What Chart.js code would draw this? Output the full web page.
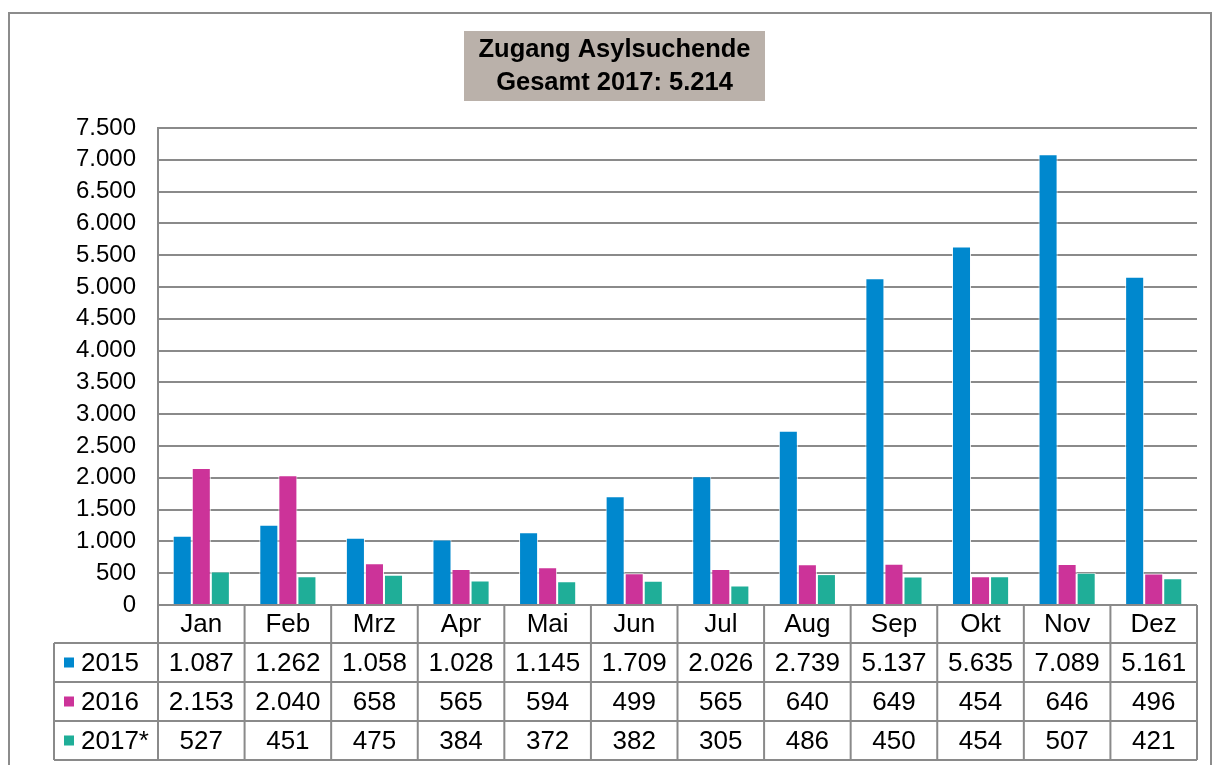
<!DOCTYPE html>
<html><head><meta charset="utf-8">
<script src="https://cdn.jsdelivr.net/npm/chart.js@4.4.0/dist/chart.umd.min.js"></script>
<style>html,body{margin:0;padding:0;background:#fff}#wrap{width:1214px;height:765px;position:relative}</style>
</head><body><div id="wrap"><canvas id="c" width="1214" height="765"></canvas></div>
<script>
const months = ['Jan','Feb','Mrz','Apr','Mai','Jun','Jul','Aug','Sep','Okt','Nov','Dez'];
const seriesNames = ['2015','2016','2017*'];
const v2015 = [1087,1262,1058,1028,1145,1709,2026,2739,5137,5635,7089,5161];
const v2016 = [2153,2040,658,565,594,499,565,640,649,454,646,496];
const v2017 = [527,451,475,384,372,382,305,486,450,454,507,421];
const colors = ['#0088CE','#CC3399','#1FAE98'];
const titleLines = ['Zugang Asylsuchende','Gesamt 2017: 5.214'];
const FONT = '"Liberation Sans", Arial, sans-serif';
const GRID = '#8a8a8a';

function fmt(n){ return String(n).replace(/\B(?=(\d{3})+(?!\d))/g,'.'); }

const tablePlugin = {
  id:'tablePlugin',
  beforeDraw(chart){
    const ctx = chart.ctx;
    ctx.save();
    ctx.fillStyle='#fff'; ctx.fillRect(0,0,chart.width,chart.height);
    ctx.strokeStyle='#8c8c8c'; ctx.lineWidth=2;
    ctx.strokeRect(9,13,1202,760);
    ctx.restore();
  },
  afterDraw(chart){
    const ctx = chart.ctx, a = chart.chartArea, xs = chart.scales.x;
    const colW = (a.right-a.left)/months.length;
    const top = a.bottom, rows=[38,39,39,39];
    const tableLeft = 54;
    const data = [v2015,v2016,v2017];
    ctx.save();
    ctx.strokeStyle=GRID; ctx.lineWidth=2;
    let ys=[top]; rows.forEach(h=>ys.push(ys[ys.length-1]+h));
    const bottom = ys[ys.length-1];
    ctx.beginPath();
    ctx.moveTo(a.left, top); ctx.lineTo(a.right, top);
    for(let r=1;r<ys.length;r++){ ctx.moveTo(tableLeft, ys[r]); ctx.lineTo(a.right, ys[r]); }
    for(let i=0;i<=months.length;i++){ const x=a.left+i*colW; ctx.moveTo(x, top); ctx.lineTo(x, bottom); }
    ctx.moveTo(tableLeft, ys[1]); ctx.lineTo(tableLeft, bottom);
    ctx.stroke();
    ctx.fillStyle='#000'; ctx.font='26px '+FONT; ctx.textBaseline='middle';
    ctx.textAlign='center';
    months.forEach((m,i)=>{ ctx.fillText(m, xs.getPixelForValue(i), (ys[0]+ys[1])/2+1); });
    data.forEach((arr,r)=>{
      const yc=(ys[r+1]+ys[r+2])/2+1;
      ctx.textAlign='center'; ctx.fillStyle='#000';
      arr.forEach((v,i)=>ctx.fillText(fmt(v), xs.getPixelForValue(i), yc));
      ctx.fillStyle=colors[r]; ctx.fillRect(64, yc-6, 10, 10);
      ctx.fillStyle='#000'; ctx.textAlign='left'; ctx.fillText(seriesNames[r], 81, yc);
    });
    // title box
    ctx.fillStyle='#BAB1AA'; ctx.fillRect(464,31,301,70);
    ctx.fillStyle='#000'; ctx.textAlign='center'; ctx.font='bold 25.5px '+FONT;
    ctx.fillText(titleLines[0], 614.5, 50);
    ctx.fillText(titleLines[1], 614.5, 83);
    ctx.restore();
  }
};

new Chart(document.getElementById('c'),{
  type:'bar',
  data:{labels:months,datasets:[v2015,v2016,v2017].map((d,i)=>({label:seriesNames[i],data:d,backgroundColor:colors[i],borderColor:'rgba(255,255,255,0.85)',borderWidth:1,categoryPercentage:0.66,barPercentage:1}))},
  options:{
    responsive:false,animation:false,
    layout:{padding:{left:0,top:128,right:17,bottom:0}},
    plugins:{legend:{display:false},title:{display:false},tooltip:{enabled:false}},
    scales:{
      x:{grid:{display:false},border:{display:false},ticks:{display:false},afterFit(s){s.height=160;}},
      y:{min:0,max:7500,
        ticks:{stepSize:500,padding:22,color:'#000',font:{family:FONT,size:24},callback:v=>fmt(v)},
        grid:{color:GRID,lineWidth:2,drawTicks:false},
        border:{display:true,color:GRID,width:2},
        afterFit(s){s.width=158;}}
    }
  },
  plugins:[tablePlugin]
});
</script></body></html>
